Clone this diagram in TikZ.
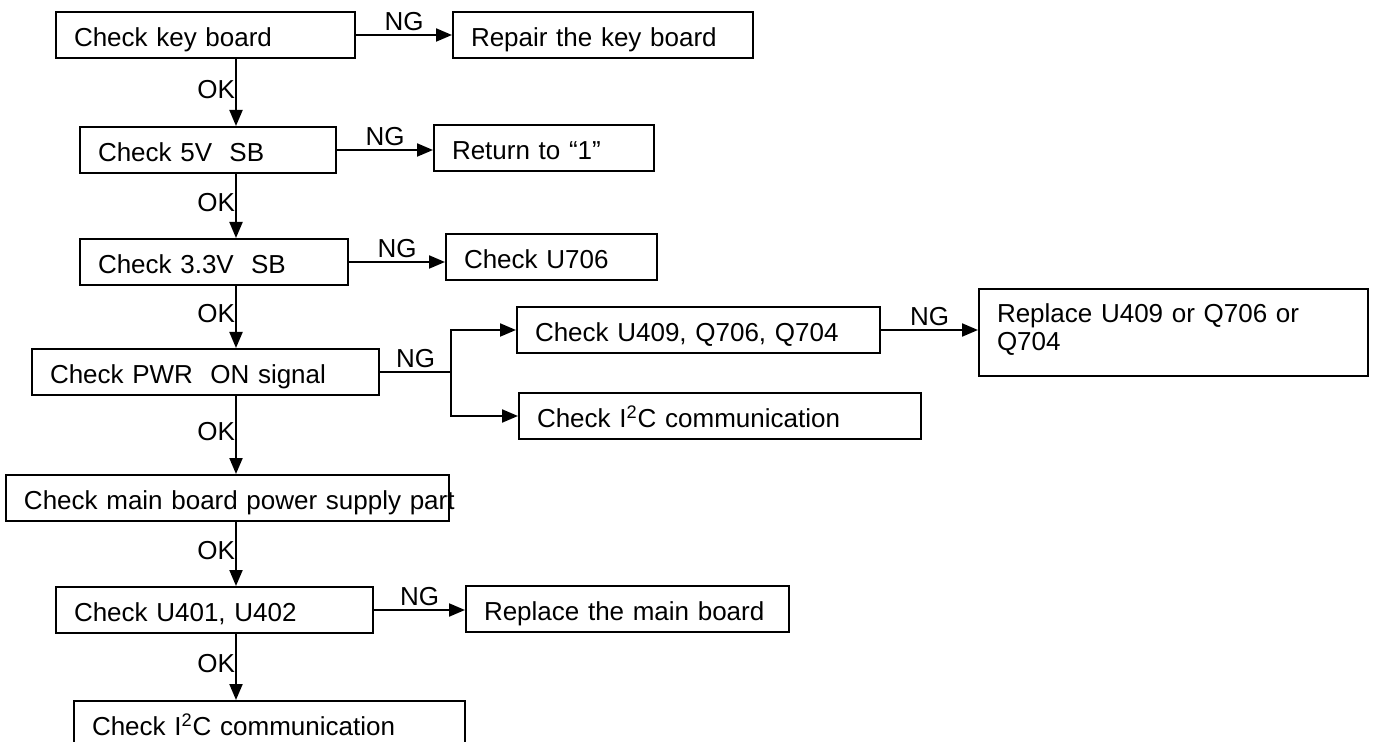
\documentclass[tikz,border=0pt]{standalone}
\usepackage{fontspec}
\setmainfont{Liberation Sans}
\usetikzlibrary{arrows.meta}
\tikzset{
  >={Triangle[length=8pt,width=6.5pt]},
}
\tikzstyle{every node}=[font=\fontsize{13}{14}\selectfont]
\tikzstyle{box}=[draw,line width=1pt,anchor=north west,align=left,inner xsep=9pt,inner ysep=0pt,minimum height=23pt,text height=11.3pt,text depth=0pt]
\tikzstyle{wire}=[line width=1pt]
\tikzstyle{flow}=[wire,->]
\tikzstyle{ok}=[left,inner sep=0pt,pos=.45]
\tikzstyle{ng}=[above,inner sep=1.5pt]

\begin{document}
\begin{tikzpicture}[x=0.5pt,y=-0.5pt]
  \useasboundingbox (0,0) rectangle (1374,742);
  \clip (0,0) rectangle (1374,742);
  % main column
  \node[box,text width=131.5pt] (keyb) at (55,11) {Check key board};
  \node[box,text width=110pt] (sb5) at (79,126) {Check 5V\ \ SB};
  \node[box,text width=116pt] (sb33) at (79,238) {Check 3.3V\ \ SB};
  \node[box,text width=155.5pt] (pwron) at (31,348) {Check PWR\ \ ON signal};
  \node[box,text width=203.5pt] (power) at (5,474) {\mbox{Check main board power supply part}};
  \node[box,text width=140.5pt] (u401) at (55,586) {Check U401, U402};
  \node[box,text width=177.5pt] (i2cend) at (73,700) {Check I\textsuperscript{2}C communication};
  % NG side
  \node[box,text width=132pt] (repair) at (452,11) {Repair the key board};
  \node[box,text width=92pt] (ret) at (433,124) {Return to “1”};
  \node[box,text width=87.5pt] (u706) at (445,233) {Check U706};
  \node[box,text width=163.5pt] (u409) at (516,306) {Check U409, Q706, Q704};
  \node[box,text width=183pt] (i2c) at (518,392) {Check I\textsuperscript{2}C communication};
  \node[box,text width=176.5pt,minimum height=43.5pt,text depth=20.8pt] (repl) at (978,288) {Replace U409 or Q706 or\\Q704};
  \node[box,text width=143.5pt] (rmain) at (465,585) {Replace the main board};

  % OK arrows
  \coordinate (spine) at (236,0);
  \draw[flow] (keyb.south -| spine) -- node[ok]{OK} (sb5.north -| spine);
  \draw[flow] (sb5.south -| spine) -- node[ok]{OK} (sb33.north -| spine);
  \draw[flow] (sb33.south -| spine) -- node[ok]{OK} (pwron.north -| spine);
  \draw[flow] (pwron.south -| spine) -- node[ok]{OK} (power.north -| spine);
  \draw[flow] (power.south -| spine) -- node[ok]{OK} (u401.north -| spine);
  \draw[flow] (u401.south -| spine) -- node[ok]{OK} (i2cend.north -| spine);

  % NG arrows
  \draw[flow] (keyb.east) -- node[ng]{NG} (keyb.east -| repair.west);
  \draw[flow] (sb5.east) -- node[ng]{NG} (sb5.east -| ret.west);
  \draw[flow] (sb33.east) -- node[ng]{NG} (sb33.east -| u706.west);
  \coordinate (fork) at (451,0);
  \draw[wire] (pwron.east) -- node[ng]{NG} (pwron.east -| fork) coordinate (split);
  \draw[flow] (split) |- (u409.west);
  \draw[flow] (split) |- (i2c.west);
  \draw[flow] (u409.east) -- node[ng]{NG} (u409.east -| repl.west);
  \draw[flow] (u401.east) -- node[ng]{NG} (u401.east -| rmain.west);
\end{tikzpicture}
\end{document}
